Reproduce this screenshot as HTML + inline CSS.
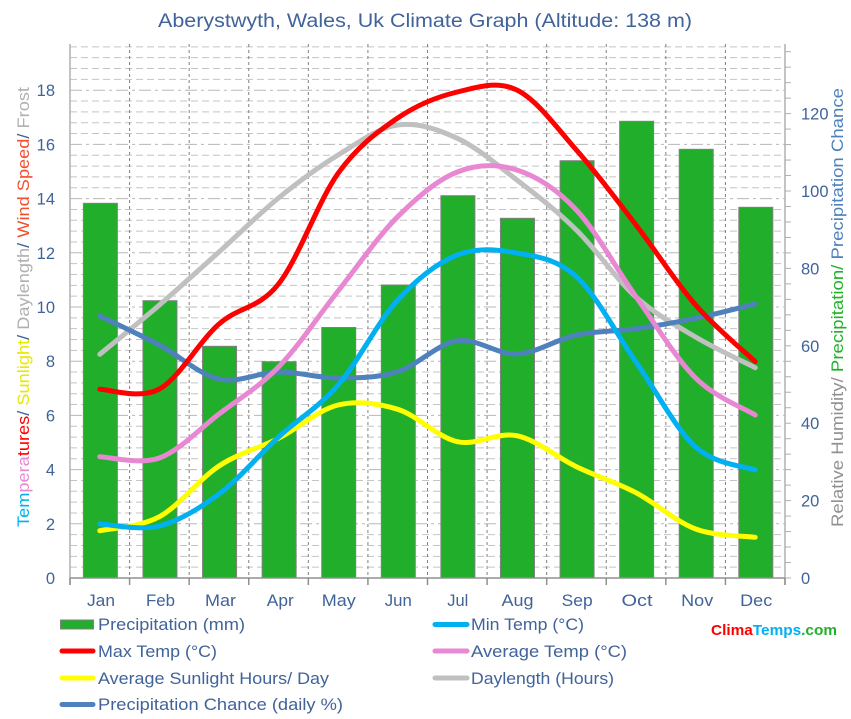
<!DOCTYPE html>
<html><head><meta charset="utf-8"><style>
html,body{margin:0;padding:0;background:#fff;}
svg{display:block;font-family:"Liberation Sans","DejaVu Sans",sans-serif;}
</style></head><body>
<svg id="s" width="851" height="719" viewBox="0 0 851 719" xmlns="http://www.w3.org/2000/svg">
<rect width="851" height="719" fill="#fff"/>
<g id="grid"></g>
<g id="bars"></g>
<g id="axes"></g>
<g id="lines" fill="none" stroke-width="5" stroke-linecap="round" stroke-linejoin="round"></g>
<text x="425" y="27" font-size="19" fill="#40639a" text-anchor="middle" textLength="534" lengthAdjust="spacingAndGlyphs">Aberystwyth, Wales, Uk Climate Graph (Altitude: 138 m)</text>
<g font-size="16.5" fill="#40639a" text-anchor="end" id="lt"></g>
<g font-size="16.5" fill="#40639a" text-anchor="start" id="rt"></g>
<g font-size="16.5" fill="#40639a" text-anchor="middle">
<text x="101" y="606" textLength="28" lengthAdjust="spacingAndGlyphs">Jan</text>
<text x="160.5" y="606" textLength="29" lengthAdjust="spacingAndGlyphs">Feb</text>
<text x="220.5" y="606" textLength="31" lengthAdjust="spacingAndGlyphs">Mar</text>
<text x="280.3" y="606" textLength="27" lengthAdjust="spacingAndGlyphs">Apr</text>
<text x="338.8" y="606" textLength="34" lengthAdjust="spacingAndGlyphs">May</text>
<text x="398.3" y="606" textLength="27" lengthAdjust="spacingAndGlyphs">Jun</text>
<text x="457.8" y="606" textLength="21" lengthAdjust="spacingAndGlyphs">Jul</text>
<text x="517.5" y="606" textLength="32" lengthAdjust="spacingAndGlyphs">Aug</text>
<text x="577.2" y="606" textLength="31" lengthAdjust="spacingAndGlyphs">Sep</text>
<text x="637" y="606" textLength="31" lengthAdjust="spacingAndGlyphs">Oct</text>
<text x="697.2" y="606" textLength="32" lengthAdjust="spacingAndGlyphs">Nov</text>
<text x="756.2" y="606" textLength="32" lengthAdjust="spacingAndGlyphs">Dec</text>
</g>
<text transform="translate(29,307) rotate(-90)" font-size="16.5" text-anchor="middle" textLength="440" lengthAdjust="spacingAndGlyphs"><tspan fill="#00b0f0">Tem</tspan><tspan fill="#e888d2">pera</tspan><tspan fill="#ff0000">tures</tspan><tspan fill="#40639a">/ </tspan><tspan fill="#e8e800">Sunlight</tspan><tspan fill="#40639a">/ </tspan><tspan fill="#b0b0b0">Daylength</tspan><tspan fill="#40639a">/ </tspan><tspan fill="#f05030">Wind Speed</tspan><tspan fill="#40639a">/ </tspan><tspan fill="#b0b0b0">Frost</tspan></text>
<text transform="translate(843,307.5) rotate(-90)" font-size="16.5" text-anchor="middle" textLength="439" lengthAdjust="spacingAndGlyphs"><tspan fill="#909090">Relative Humidity/ </tspan><tspan fill="#22b02a">Precipitation/ </tspan><tspan fill="#4f81bd">Precipitation Chance</tspan></text>
<rect x="60.5" y="620" width="33" height="9" fill="#21ae2a" stroke="#808080" stroke-width="1"/>
<g stroke-width="5" stroke-linecap="round">
<line x1="62" y1="651" x2="93" y2="651" stroke="#ff0000"/>
<line x1="62" y1="678" x2="93" y2="678" stroke="#ffff00"/>
<line x1="62" y1="704.5" x2="93" y2="704.5" stroke="#4f81bd"/>
<line x1="435" y1="624.5" x2="467" y2="624.5" stroke="#00b0f0"/>
<line x1="435" y1="651" x2="467" y2="651" stroke="#e888d2"/>
<line x1="435" y1="678" x2="467" y2="678" stroke="#c0c0c0"/>
</g>
<g font-size="16.5" fill="#40639a">
<text x="98" y="630" textLength="147" lengthAdjust="spacingAndGlyphs">Precipitation (mm)</text>
<text x="98" y="657" textLength="119" lengthAdjust="spacingAndGlyphs">Max Temp (°C)</text>
<text x="98" y="684" textLength="231" lengthAdjust="spacingAndGlyphs">Average Sunlight Hours/ Day</text>
<text x="98" y="710" textLength="245" lengthAdjust="spacingAndGlyphs">Precipitation Chance (daily %)</text>
<text x="471" y="630" textLength="113" lengthAdjust="spacingAndGlyphs">Min Temp (°C)</text>
<text x="471" y="657" textLength="156" lengthAdjust="spacingAndGlyphs">Average Temp (°C)</text>
<text x="471" y="684" textLength="143" lengthAdjust="spacingAndGlyphs">Daylength (Hours)</text>
</g>
<text x="711" y="635" font-size="15" font-weight="bold" textLength="126" lengthAdjust="spacingAndGlyphs"><tspan fill="#ff0000">Clima</tspan><tspan fill="#00b0f0">Temps</tspan><tspan fill="#22b02a">.com</tspan></text>
</svg>
<script>
(function(){
var NS="http://www.w3.org/2000/svg";
function el(p,t,a,txt){var e=document.createElementNS(NS,t);for(var k in a)e.setAttribute(k,a[k]);if(txt!==undefined)e.textContent=txt;p.appendChild(e);return e;}
var grid=document.getElementById('grid'),bars=document.getElementById('bars'),axes=document.getElementById('axes'),lines=document.getElementById('lines');
var L=70,R=785,T=44,B=578,MW=(R-L)/12;
for(var k=1;k<=49;k++){var y=B-k*10.84;
 if(k%5==0) el(grid,'line',{x1:L,x2:R,y1:y,y2:y,stroke:'#b8b8b8','stroke-width':1,'stroke-dasharray':'12,4,3,4'});
 else el(grid,'line',{x1:L,x2:R,y1:y,y2:y,stroke:'#c4c4c4','stroke-width':1,'stroke-dasharray':'7,4'});}
for(var i=1;i<12;i++){var x=L+i*MW;el(grid,'line',{x1:x,x2:x,y1:T,y2:B,stroke:'#808080','stroke-width':1,'stroke-dasharray':'3,3'});}
var tops=[203.3,300.7,346.3,361.7,327.5,285,195.7,218.3,160.7,121.3,149.3,207.3];
for(var i=0;i<12;i++){var cx=L+MW*(i+0.5)+0.6;el(bars,'rect',{x:cx-17,y:tops[i],width:34,height:B-tops[i],fill:'#21ae2a',stroke:'#808080','stroke-width':1});}
el(axes,'line',{x1:L,x2:L,y1:T,y2:B+7,stroke:'#b0b0b0','stroke-width':1.5});
el(axes,'line',{x1:R,x2:R,y1:T,y2:B+7,stroke:'#b0b0b0','stroke-width':1.5});
el(axes,'line',{x1:L,x2:R,y1:B,y2:B,stroke:'#909090','stroke-width':1.5});
for(var i=0;i<=12;i++){var x=L+i*MW;el(axes,'line',{x1:x,x2:x,y1:B,y2:B+7,stroke:'#909090','stroke-width':1.5});}
for(var k=0;k<=34;k++){var y=B-k*15.48;el(axes,'line',{x1:R,x2:R+6,y1:y,y2:y,stroke:'#b0b0b0','stroke-width':1});}
var lt=document.getElementById('lt'),rt=document.getElementById('rt');
for(var v=0;v<=18;v+=2){el(lt,'text',{x:55,y:B-v*27.1+6},String(v));}
for(var v=0;v<=120;v+=20){el(rt,'text',{x:801,y:B-v*3.87+6},String(v));}
function xs(i){return 99.8+59.58*i;}
function path(ys){var p=[];for(var i=0;i<ys.length;i++)p.push([xs(i),ys[i]]);
 var d='M'+p[0][0].toFixed(1)+','+p[0][1].toFixed(1);
 for(var i=0;i<p.length-1;i++){var p0=p[i-1]||p[i],p1=p[i],p2=p[i+1],p3=p[i+2]||p[i+1];
  var c1x=p1[0]+(p2[0]-p0[0])/6,c1y=p1[1]+(p2[1]-p0[1])/6,c2x=p2[0]-(p3[0]-p1[0])/6,c2y=p2[1]-(p3[1]-p1[1])/6;
  d+=' C'+c1x.toFixed(1)+','+c1y.toFixed(1)+' '+c2x.toFixed(1)+','+c2y.toFixed(1)+' '+p2[0].toFixed(1)+','+p2[1].toFixed(1);}
 return d;}
var series=[
 ['#c0c0c0',[354.3,305,252,198,155,125,138.3,180,230,297,337,367.7]],
 ['#4f81bd',[316,345,379,372,378,371.7,340.7,354,335,328.7,318.3,304]],
 ['#ffff00',[530.7,516.7,466,438.3,405,409.3,441.7,435.7,466.7,492.7,529,537.3]],
 ['#00b0f0',[524,526,494,437,385,300,255,253,276.7,362,447,470]],
 ['#e888d2',[456.7,458,414,367,291,216.7,172,170,210,296.7,378,415]],
 ['#ff0000',[389.3,389,324,284,173.3,118,92,90,150,225,305,361.7]]
];
series.forEach(function(s){el(lines,'path',{d:path(s[1]),stroke:s[0]});});
})();
</script>
</body></html>
